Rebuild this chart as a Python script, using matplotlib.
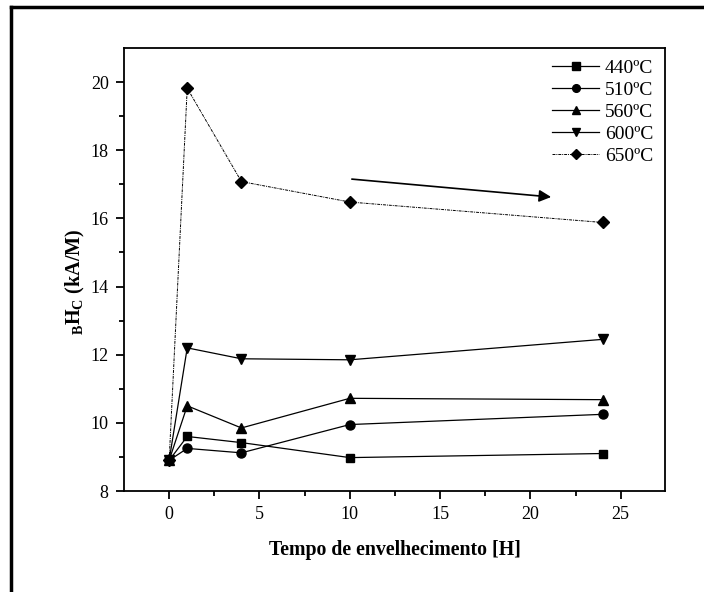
import numpy as np
import matplotlib
matplotlib.use("Agg")
import matplotlib.pyplot as plt
from matplotlib.lines import Line2D

plt.rcParams['font.family'] = ['Liberation Serif', 'DejaVu Serif']
plt.rcParams['mathtext.fontset'] = 'custom'
plt.rcParams['mathtext.rm'] = 'Liberation Serif'
plt.rcParams['mathtext.bf'] = 'Liberation Serif:bold'

# aging time [h]
tempo = [0, 1, 4, 10, 24]
h440 = [8.9, 9.6, 9.42, 8.98, 9.1]
h510 = [8.9, 9.25, 9.12, 9.95, 10.25]
h560 = [8.9, 10.5, 9.85, 10.72, 10.68]
h600 = [8.9, 12.2, 11.88, 11.85, 12.45]
h650 = [8.9, 19.82, 17.08, 16.48, 15.88]
labels = ['440ºC', '510ºC', '560ºC', '600ºC', '650ºC']

fig = plt.figure(figsize=(7.04, 5.92), dpi=100)
ax = fig.add_axes([124/704, 1-491/592, (665-124)/704, (491-48)/592])

ax.plot(tempo, h440, '-s', color='k', lw=0.9, ms=6, label=labels[0])
ax.plot(tempo, h510, '-o', color='k', lw=0.9, ms=6.5, label=labels[1])
ax.plot(tempo, h560, '-^', color='k', lw=0.9, ms=7, label=labels[2])
ax.plot(tempo, h600, '-v', color='k', lw=0.9, ms=7, label=labels[3])
ax.plot(tempo, h650, color='k', lw=0.7, ls=(0, (3, 1, 1, 1)), marker='D', ms=6, label=labels[4])

# trend arrow
ax.annotate('', xy=(21.3, 16.62), xytext=(9.96, 17.16),
            arrowprops=dict(arrowstyle='-|>', color='k', lw=1.2, mutation_scale=18))

ax.set_xlim(-2.5, 27.45)
ax.set_ylim(8, 21)
ax.set_xticks([0, 5, 10, 15, 20, 25])
ax.set_xticks(np.arange(2.5, 27, 5), minor=True)
ax.set_yticks([8, 10, 12, 14, 16, 18, 20])
ax.set_yticks([9, 11, 13, 15, 17, 19], minor=True)
ax.tick_params(which='major', direction='out', length=6, width=1.3, labelsize=13, pad=5)
ax.tick_params(which='minor', direction='out', length=3.5, width=1.3)
for s in ax.spines.values():
    s.set_linewidth(1.3)

ax.set_xlabel('Tempo de envelhecimento [H]', fontsize=14.3, fontweight='bold', labelpad=12)
ax.set_ylabel(r'$_\mathbf{B}\mathbf{H}_\mathbf{C}$ (kA/M)', fontsize=14.5, fontweight='bold')
ax.yaxis.set_label_coords(-0.068, 0.472)

ax.legend(loc='upper right', frameon=False, fontsize=14, handlelength=2.4,
          labelspacing=0.22, borderaxespad=0.2, handletextpad=0.3, markerscale=0.85)

# outer frame lines (left and top)
fig.add_artist(Line2D([11/704, 11/704], [0, 1-7/592], transform=fig.transFigure, color='k', lw=2.5))
fig.add_artist(Line2D([11/704, 1], [1-7/592, 1-7/592], transform=fig.transFigure, color='k', lw=2.5))

fig.savefig('out.png', dpi=100)
